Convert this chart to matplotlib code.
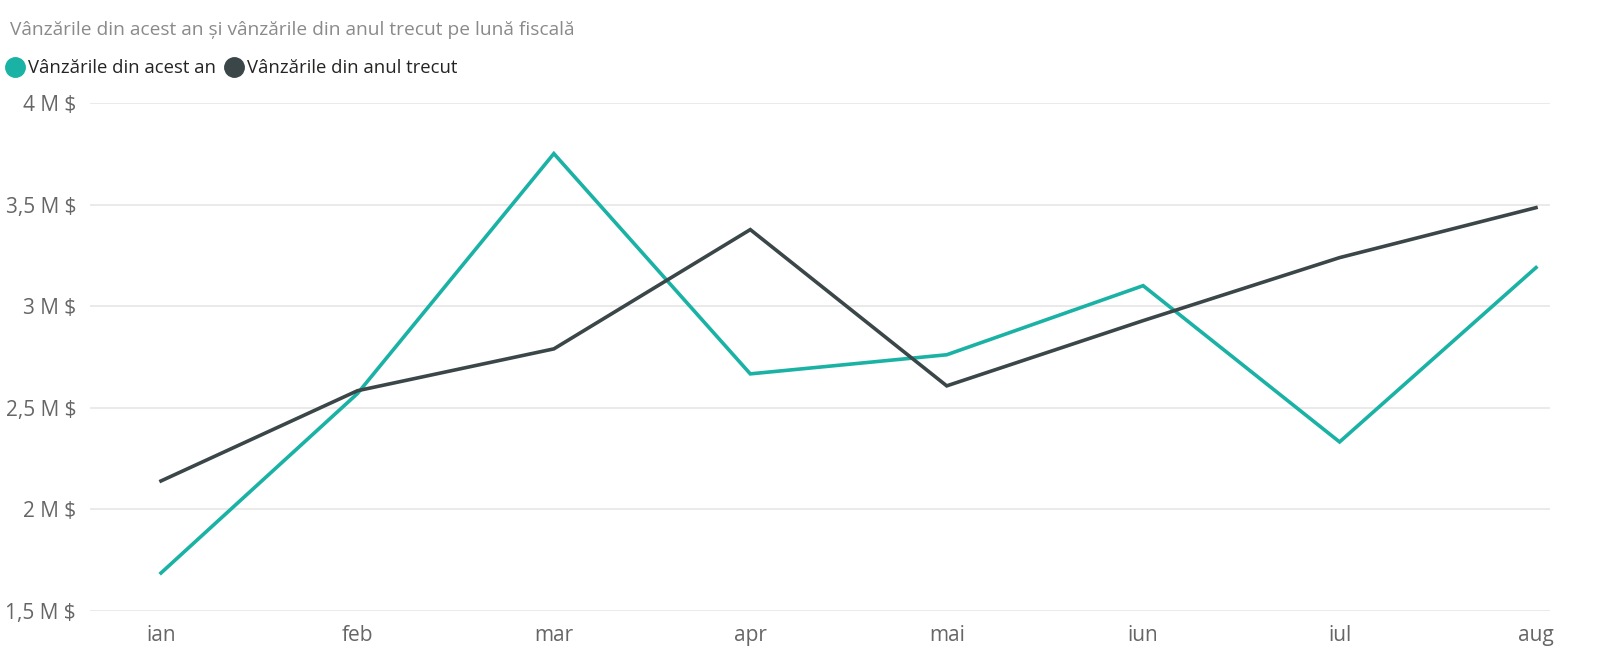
import matplotlib.pyplot as plt
from matplotlib.lines import Line2D
import numpy as np

# data
months = ['ian', 'feb', 'mar', 'apr', 'mai', 'iun', 'iul', 'aug']
this_year = [1.687, 2.57, 3.751, 2.667, 2.761, 3.101, 2.332, 3.19]
last_year = [2.14, 2.584, 2.79, 3.377, 2.608, 2.929, 3.239, 3.485]
yticks = [1.5, 2.0, 2.5, 3.0, 3.5, 4.0]
ytick_labels = ['1,5 M $', '2 M $', '2,5 M $', '3 M $', '3,5 M $', '4 M $']

teal = '#1AB2A4'
dark = '#3B4649'

plt.rcParams['font.family'] = ['Open Sans', 'DejaVu Sans']

fig = plt.figure(figsize=(16, 6.69), dpi=100)
ax = fig.add_axes([90/1600, 1-611/669, (1550-90)/1600, (611-103)/669])

x = np.arange(len(months))
ax.plot(x, this_year, color=teal, lw=2.6, solid_joinstyle='miter')
ax.plot(x, last_year, color=dark, lw=2.6, solid_joinstyle='miter')

# x range so ian sits at px 161 and aug at 1536
step = (1536-161)/7
ax.set_xlim(-(161-90)/step, 7+(1550-1536)/step)
ax.set_ylim(1.5, 4.0)
ax.set_xticks(x)
ax.set_xticklabels(months)
ax.set_yticks(yticks)
ax.set_yticklabels(ytick_labels)
ax.grid(axis='y', color='#E6E6E6', lw=1.2)
ax.set_axisbelow(True)
for s in ax.spines.values():
    s.set_visible(False)
ax.tick_params(axis='both', length=0, labelsize=15, colors='#666666')
ax.tick_params(axis='x', pad=10)
ax.tick_params(axis='y', pad=10)

fig.text(10/1600, 1-30/669, 'Vânzările din acest an și vânzările din anul trecut pe lună fiscală',
         fontsize=13.8, color='#8A8A8A', va='center')

handles = [Line2D([], [], ls='none', marker='o', markersize=14, color=teal),
           Line2D([], [], ls='none', marker='o', markersize=14, color=dark)]
fig.legend(handles, ['Vânzările din acest an', 'Vânzările din anul trecut'],
           loc='center left', bbox_to_anchor=(0, 1-68/669), ncol=2, frameon=False,
           fontsize=13.3, handletextpad=0.2, columnspacing=0.5, handlelength=1.0,
           labelcolor='#252423', borderaxespad=0, borderpad=0.3)

fig.savefig('out.png', dpi=100)
